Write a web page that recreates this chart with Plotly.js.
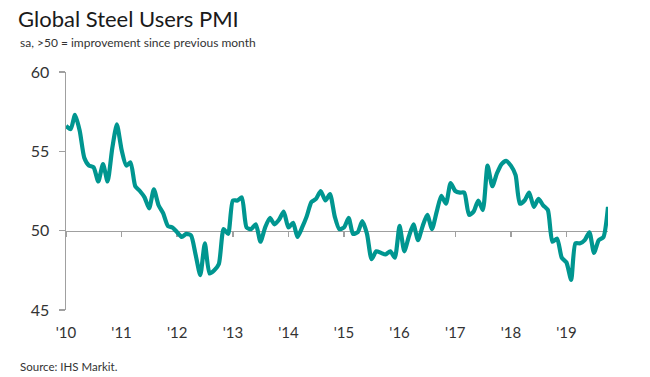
<!DOCTYPE html>
<html>
<head>
<meta charset="utf-8">
<script src="https://cdn.plot.ly/plotly-3.0.1.min.js"></script>
<style>html,body{margin:0;padding:0;background:#fff;}#chart{width:650px;height:377px;}</style>
</head>
<body>
<div id="chart"></div>
<script>
// Global Steel Users PMI, monthly, Jan 2010 - Oct 2019
var startYear = 2010;
var pmi = [
  56.6, 56.4, 57.3, 56.3, 54.6, 54.1, 54.0, 53.1, 54.2, 53.1, 55.2, 56.7,
  55.1, 54.1, 54.3, 52.8, 52.5, 52.1, 51.4, 52.6, 51.6, 51.1, 50.3, 50.2,
  49.9, 49.6, 49.8, 49.7, 48.5, 47.2, 49.2, 47.3, 47.5, 47.9, 50.1, 49.8,
  51.9, 51.9, 52.1, 50.2, 50.1, 50.4, 49.3, 50.2, 50.8, 50.4, 50.7, 51.2,
  50.2, 50.5, 49.6, 50.2, 50.9, 51.8, 52.0, 52.5, 51.9, 52.3, 50.9, 50.1,
  50.2, 50.8, 49.8, 49.9, 50.6, 49.8, 48.2, 48.7, 48.6, 48.5, 48.7, 48.3,
  50.3, 48.7, 49.6, 50.4, 49.4, 50.3, 51.0, 50.1, 51.2, 52.2, 51.7, 53.0,
  52.5, 52.4, 52.4, 51.0, 51.2, 51.9, 51.3, 54.1, 52.8, 53.6, 54.2, 54.4,
  54.1, 53.5, 51.7, 51.9, 52.4, 51.5, 52.0, 51.6, 51.3, 49.3, 49.5, 48.3,
  48.0, 46.9, 49.2, 49.2, 49.4, 49.9, 48.6, 49.4, 49.6, 51.5
];
var tickYears = [2010, 2011, 2012, 2013, 2014, 2015, 2016, 2017, 2018, 2019];
var tickLabels = ["'10", "'11", "'12", "'13", "'14", "'15", "'16", "'17", "'18", "'19"];
var yTicks = [45, 50, 55, 60];

var months = pmi.map(function (v, i) {
  var y = startYear + Math.floor(i / 12);
  var m = (i % 12) + 1;
  return y + '-' + (m < 10 ? '0' + m : m) + '-01';
});
var tickDates = tickYears.map(function (y) { return y + '-01-01'; });

var axisGrey = '#a0a0a0';
var textCol = '#333333';
var fontFam = 'Lato, "Open Sans", sans-serif';

// invisible carrier trace for the bottom label axis
var carrier = {
  x: months, y: pmi, xaxis: 'x', yaxis: 'y', type: 'scatter', mode: 'lines',
  line: {color: 'rgba(0,0,0,0)', width: 0}, hoverinfo: 'skip'
};
var trace = {
  x: months, y: pmi, xaxis: 'x2', yaxis: 'y', type: 'scatter', mode: 'lines',
  line: {color: '#009690', width: 4.2, shape: 'spline', smoothing: 0.6},
  hoverinfo: 'skip'
};

var layout = {
  width: 650, height: 377,
  margin: {l: 66, r: 42, t: 72, b: 67},
  paper_bgcolor: '#ffffff', plot_bgcolor: '#ffffff',
  showlegend: false,
  font: {family: fontFam, color: textCol},
  title: {
    text: 'Global Steel Users PMI',
    font: {family: fontFam, size: 22, color: '#1a1a1a'},
    xref: 'container', x: 18 / 650, xanchor: 'left',
    yref: 'container', y: 1 - 19 / 377, yanchor: 'middle'
  },
  xaxis: {
    type: 'date',
    range: [months[0], months[months.length - 1]],
    tickmode: 'array', tickvals: tickDates, ticktext: tickLabels,
    showline: false, showgrid: false, zeroline: false, ticks: '',
    ticklabelstandoff: 12,
    tickfont: {family: fontFam, size: 15, color: textCol}
  },
  xaxis2: {
    type: 'date', overlaying: 'x', matches: 'x',
    anchor: 'free', position: 1 / 3, layer: 'below traces',
    tickmode: 'array', tickvals: tickDates,
    showticklabels: false, showgrid: false, zeroline: false,
    showline: true, linecolor: axisGrey, linewidth: 1.5,
    ticks: 'outside', ticklen: 5, tickcolor: axisGrey, tickwidth: 1.5
  },
  yaxis: {
    range: [45, 60], tickmode: 'array', tickvals: yTicks,
    showgrid: false, zeroline: false,
    showline: true, linecolor: axisGrey, linewidth: 1.5,
    ticks: 'outside', ticklen: 6, tickcolor: axisGrey, tickwidth: 1.5,
    ticklabelstandoff: 6,
    tickfont: {family: fontFam, size: 16, color: textCol}
  },
  annotations: [
    {text: 'sa, >50 = improvement since previous month', xref: 'paper', yref: 'paper',
     x: (18 - 66) / 542, y: (310 - 42) / 238, xanchor: 'left', yanchor: 'middle',
     showarrow: false, font: {family: fontFam, size: 12, color: textCol}},
    {text: 'Source: IHS Markit.', xref: 'paper', yref: 'paper',
     x: (18 - 66) / 542, y: (310 - 366) / 238, xanchor: 'left', yanchor: 'middle',
     showarrow: false, font: {family: fontFam, size: 11.5, color: textCol}}
  ]
};

Plotly.newPlot('chart', [carrier, trace], layout, {displayModeBar: false, staticPlot: true});
</script>
</body>
</html>
